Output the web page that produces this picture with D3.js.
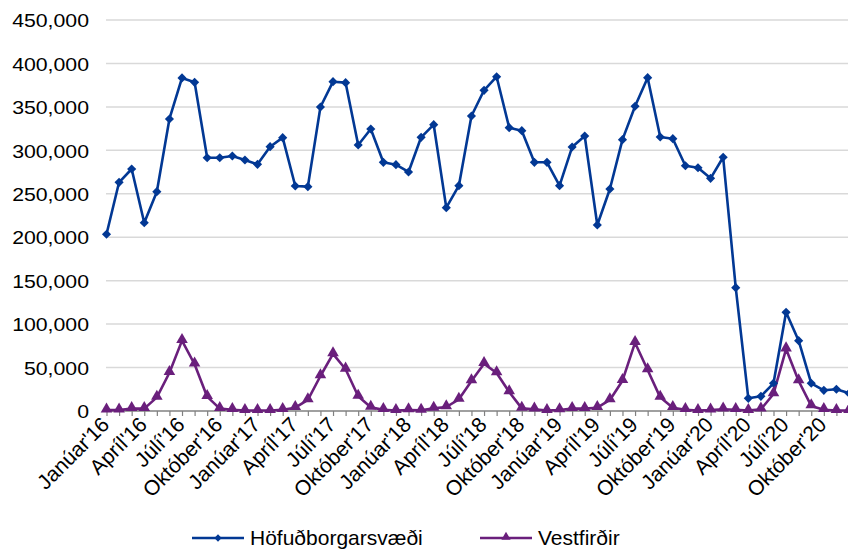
<!DOCTYPE html>
<html><head><meta charset="utf-8">
<script src="https://cdn.jsdelivr.net/npm/d3@7"></script>
<style>body{margin:0;background:#fff}svg{display:block;font-family:Arial,"Liberation Sans",sans-serif}</style>
</head><body><svg id="c" width="848" height="551"></svg>
<script>
const months = ["Janúar","Febrúar","Mars","Apríl","Maí","Júní","Júlí","Ágúst","September","Október","Nóvember","Desember"];
const years = ["16","17","18","19","20"];
const categories = years.flatMap(y => months.map(m => m + "'" + y));
const tickLabels = categories.filter((d,i) => i % 3 === 0);
const seriesNames = ["Höfuðborgarsvæði","Vestfirðir"];
const hofudborg = [
 203400,263200,278500,216700,252400,336100,383300,378300,291500,291500,293500,288900,
 283900,304200,314600,259000,258200,349900,379000,377900,306100,324600,286200,283500,
 275100,315000,329500,234000,259300,339500,369100,384700,326100,322600,286200,286200,
 259300,303800,316500,214100,255500,312300,350700,383600,315300,313400,282300,280000,
 267800,292000,141900,14600,16900,31900,113600,80900,31900,23800,25000,20400];
const vestfirdir = [
 1000,1000,2700,2700,15700,44000,81000,53800,16500,2700,1500,500,
 500,500,1500,3800,12700,40300,65700,48000,16900,4200,1500,500,
 1200,700,3000,4600,13400,34500,54500,43700,21900,3000,2000,500,
 1200,2700,2700,3800,12700,34900,78600,47200,15700,3800,1500,500,
 1000,2000,1500,500,2000,19600,71300,34500,5800,1500,500,500];
const yTicks = [0,50000,100000,150000,200000,250000,300000,350000,400000,450000];

const svg = d3.select("#c");
const x = d3.scalePoint().domain(categories).range([106.5, 849]);
const y = d3.scaleLinear().domain([0,450000]).range([411, 20]);
const blue = "#023894", purple = "#6a1f7c";

// gridlines
svg.append("g").selectAll("line").data(yTicks.filter(d=>d>0)).join("line")
  .attr("x1",106).attr("x2",848).attr("y1",d=>y(d)).attr("y2",d=>y(d))
  .attr("stroke","#d9d9d9").attr("stroke-width",1.5);

// y axis labels
svg.append("g").selectAll("text").data(yTicks).join("text")
  .attr("transform",d=>`translate(89,${y(d)+7.2}) scale(1.15,1)`)
  .attr("text-anchor","end")
  .attr("font-size",18.5).attr("fill","#000").text(d=>d3.format(",")(d));

// x axis
const xAxis = d3.axisBottom(x).tickSize(5).tickFormat("");
const gx = svg.append("g").attr("transform","translate(0,411)").call(xAxis);
gx.select(".domain").attr("stroke","#808080").attr("stroke-width",1.5).attr("d","M106,0H848");
gx.selectAll(".tick line").attr("stroke","#808080").attr("stroke-width",1.2);

svg.append("g").selectAll("text").data(tickLabels).join("text")
  .attr("transform",d=>`translate(${x(d)+4},${426}) rotate(-45)`)
  .attr("text-anchor","end").attr("font-size",21).attr("fill","#000").text(d=>d);

// lines
const line = d3.line().x((d,i)=>x(categories[i])).y(d=>y(d));
svg.append("path").datum(hofudborg).attr("d",line).attr("fill","none")
  .attr("stroke",blue).attr("stroke-width",2.6).attr("stroke-linejoin","round");
svg.append("path").datum(vestfirdir).attr("d",line).attr("fill","none")
  .attr("stroke",purple).attr("stroke-width",2.6).attr("stroke-linejoin","round");

const diamond = d3.symbol().type(d3.symbolSquare).size(42)();
const tri = d3.symbol().type(d3.symbolTriangle).size(58)();
svg.append("g").selectAll("path").data(hofudborg).join("path")
  .attr("d",diamond).attr("fill",blue)
  .attr("transform",(d,i)=>`translate(${x(categories[i])},${y(d)}) rotate(45)`);
svg.append("g").selectAll("path").data(vestfirdir).join("path")
  .attr("d",tri).attr("fill",purple)
  .attr("transform",(d,i)=>`translate(${x(categories[i])},${y(d)-1})`);

// legend
const leg = [{name:seriesNames[0],color:blue,sym:diamond,rot:45,x0:192,tx:250},
             {name:seriesNames[1],color:purple,sym:tri,rot:0,x0:480,tx:538}];
const lg = svg.append("g");
leg.forEach(l=>{
  lg.append("line").attr("x1",l.x0).attr("x2",l.x0+52).attr("y1",538).attr("y2",538)
    .attr("stroke",l.color).attr("stroke-width",2.6);
  lg.append("path").attr("d",l.sym).attr("fill",l.color)
    .attr("transform",`translate(${l.x0+26},${l.rot?538:537}) rotate(${l.rot}) scale(0.8)`);
  lg.append("text").attr("x",l.tx).attr("y",545).attr("font-size",21)
    .attr("fill","#000").text(l.name);
});
</script></body></html>
